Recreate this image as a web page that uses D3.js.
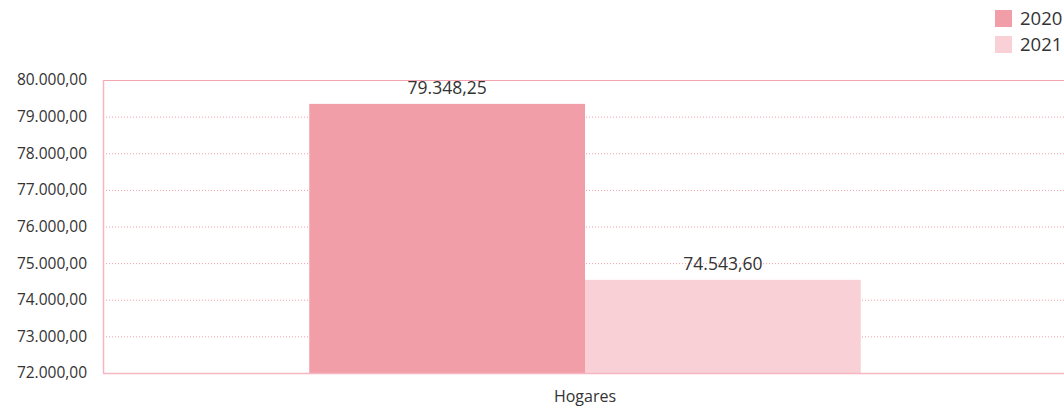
<!DOCTYPE html>
<html><head><meta charset="utf-8">
<script src="https://cdn.jsdelivr.net/npm/d3@7/dist/d3.min.js"></script>
<style>body{margin:0;background:#fff;}svg{display:block;font-family:"Open Sans","Noto Sans",sans-serif;}</style>
</head><body>
<svg id="c" width="1064" height="410"></svg>
<script>
const categories = ["Hogares"];
const seriesNames = ["2020", "2021"];
const values2020 = [79348.25];
const values2021 = [74543.60];
const yTicks = [72000, 73000, 74000, 75000, 76000, 77000, 78000, 79000, 80000];
const colors = ["#f29ea9", "#f8d0d6"];

const svg = d3.select("#c");
const m = {left: 103, top: 80, right: -3, bottom: 37};
const W = 1064, H = 410;
const x0 = d3.scaleBand().domain(categories).range([m.left, W - m.right]).paddingInner(0).paddingOuter(0.374);
const x1 = d3.scaleBand().domain(seriesNames).range([0, x0.bandwidth()]);
const y = d3.scaleLinear().domain([72000, 80000]).range([H - m.bottom, m.top]);
const fmt = v => {
  const s = d3.format(",.2f")(v);
  return s.replace(/,/g, "X").replace(/\./g, ",").replace(/X/g, ".");
};

// grid
svg.append("g").selectAll("line").data(yTicks.slice(1, -1)).join("line")
  .attr("x1", m.left).attr("x2", W).attr("y1", d => y(d) + 0.5).attr("y2", d => y(d) + 0.5)
  .attr("stroke", "#f29ea9").attr("stroke-dasharray", "1,2").attr("stroke-width", 1);

// bars
const data = categories.map((c, i) => ({c, vals: [values2020[i], values2021[i]]}));
const g = svg.append("g");
data.forEach(d => {
  d.vals.forEach((v, j) => {
    const bx = x0(d.c) + x1(seriesNames[j]);
    g.append("rect").attr("x", bx).attr("width", x1.bandwidth())
      .attr("y", y(v)).attr("height", y(72000) - y(v)).attr("fill", colors[j]);
    g.append("text").attr("x", bx + x1.bandwidth() / 2).attr("y", y(v) - 10)
      .attr("text-anchor", "middle").attr("font-size", 17.5).attr("fill", "#333").text(fmt(v));
  });
});

// frame
svg.append("line").attr("x1", m.left).attr("x2", W).attr("y1", m.top + 0.5).attr("y2", m.top + 0.5).attr("stroke", "#f4a3b0").attr("stroke-width", 1);
svg.append("line").attr("x1", m.left + 0.5).attr("x2", m.left + 0.5).attr("y1", m.top).attr("y2", y(72000)).attr("stroke", "#f6b7c1").attr("stroke-width", 1.5);
svg.append("line").attr("x1", m.left).attr("x2", W).attr("y1", y(72000) + 0.5).attr("y2", y(72000) + 0.5).attr("stroke", "#f6b7c1").attr("stroke-width", 1.5);

// y axis labels
svg.append("g").selectAll("text").data(yTicks).join("text")
  .attr("x", 87).attr("y", d => y(d)).attr("dy", "0.35em").attr("text-anchor", "end")
  .attr("font-size", 15.5).attr("fill", "#333").text(d => fmt(d));

// x axis label
svg.append("g").selectAll("text").data(categories).join("text")
  .attr("x", d => x0(d) + x0.bandwidth() / 2).attr("y", 402).attr("text-anchor", "middle")
  .attr("font-size", 16).attr("fill", "#333").text(d => d);

// legend
const lg = svg.append("g");
seriesNames.forEach((s, i) => {
  lg.append("rect").attr("x", 995).attr("y", 10 + i * 26).attr("width", 17).attr("height", 17).attr("fill", colors[i]);
  lg.append("text").attr("x", 1020).attr("y", 19 + i * 26).attr("dy", "0.35em").attr("font-size", 18.5).attr("fill", "#333").text(s);
});
</script>
</body></html>
